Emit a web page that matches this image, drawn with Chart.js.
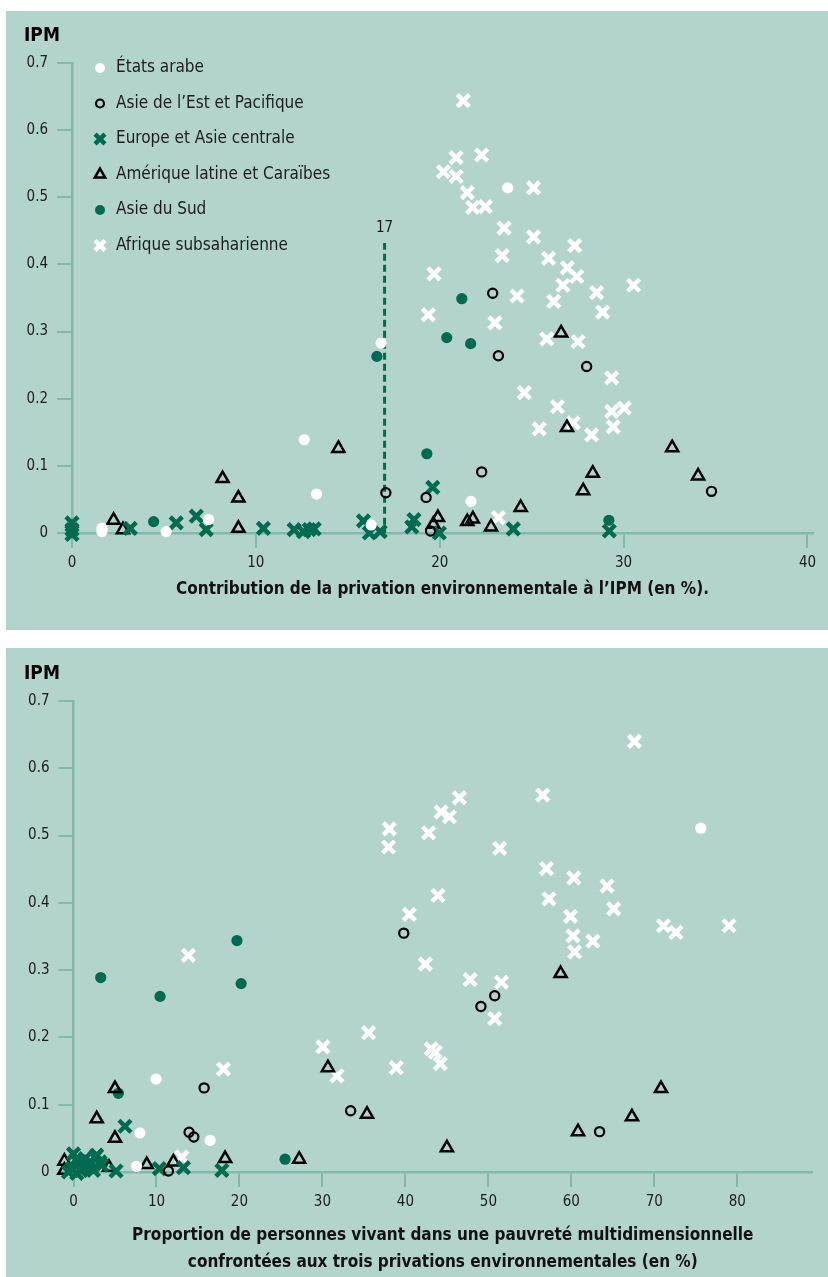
<!DOCTYPE html>
<html>
<head>
<meta charset="utf-8">
<script src="https://cdn.jsdelivr.net/npm/chart.js@4.4.1/dist/chart.umd.min.js"></script>
<style>
  body { margin: 0; background: #fff; width: 828px; height: 1277px; overflow: hidden; position: relative; }
  .panel { position: absolute; left: 6px; width: 822px; background: #b3d3cd; }
  .panel canvas { display: block; }
  #p1 { top: 11px; height: 619px; }
  #p2 { top: 648px; height: 629px; }
</style>
</head>
<body>
<div class="panel" id="p1"><canvas id="c1" width="822" height="619"></canvas></div>
<div class="panel" id="p2"><canvas id="c2" width="822" height="629"></canvas></div>
<script>
// series names
const regionNames = ['États arabe', 'Asie de l’Est et Pacifique', 'Europe et Asie centrale',
    'Amérique latine et Caraïbes', 'Asie du Sud', 'Afrique subsaharienne']

// chart 1 : contribution (%) , IPM
const arabe1 = [[23.7, 0.514], [16.81, 0.283], [12.63, 0.139], [13.3, 0.058], [7.43, 0.020], [5.12, 0.002],
    [1.63, 0.007], [1.63, 0.002], [21.7, 0.047], [16.27, 0.012]]
const estAsie1 = [[22.88, 0.357], [23.19, 0.264], [27.99, 0.248], [22.28, 0.091], [34.78, 0.062], [17.07, 0.060],
    [19.26, 0.053], [19.5, 0.003]]
const europe1 = [[0, 0.015], [0, 0.005], [0, -0.002], [3.17, 0.007], [5.67, 0.015], [6.76, 0.025], [7.3, 0.005],
    [10.41, 0.007], [12.08, 0.005], [12.59, 0.002], [12.9, 0.005], [13.17, 0.006], [15.85, 0.018], [16.17, 0.0],
    [16.76, 0.002], [18.48, 0.009], [18.6, 0.020], [19.62, 0.068], [19.98, 0.0], [24.0, 0.006], [29.22, 0.003]]
const latAm1 = [[26.6, 0.298], [26.92, 0.157], [32.64, 0.127], [34.05, 0.085], [28.32, 0.089], [27.8, 0.063],
    [24.4, 0.038], [22.79, 0.009], [21.8, 0.021], [21.5, 0.017], [19.9, 0.023], [19.65, 0.013], [14.49, 0.126],
    [8.19, 0.081], [9.05, 0.052], [9.05, 0.007], [2.26, 0.019], [2.77, 0.005]]
const sud1 = [[21.2, 0.349], [20.38, 0.291], [21.68, 0.282], [16.58, 0.263], [19.3, 0.118], [29.2, 0.019], [4.44, 0.017]]
const afrique1 = [[21.28, 0.644], [20.89, 0.559], [22.28, 0.563], [20.2, 0.538], [20.89, 0.531], [21.5, 0.507],
    [21.79, 0.485], [22.48, 0.486], [25.1, 0.514], [23.5, 0.454], [25.1, 0.441], [27.34, 0.428], [23.4, 0.413],
    [25.92, 0.409], [26.94, 0.395], [27.45, 0.382], [26.7, 0.369], [19.69, 0.386], [30.54, 0.369], [28.53, 0.358],
    [24.2, 0.353], [26.2, 0.345], [28.86, 0.329], [19.38, 0.325], [23.0, 0.313], [25.82, 0.289], [27.52, 0.285],
    [29.35, 0.231], [24.6, 0.209], [26.4, 0.188], [29.35, 0.181], [30.03, 0.186], [27.26, 0.164], [25.41, 0.155],
    [29.43, 0.158], [28.26, 0.146], [23.19, 0.023]]
const seuil = 17
const seuilLine = [[17, -0.037], [17, 0.432]]

// chart 2 : proportion (%) , IPM
const arabe2 = [[75.6, 0.511], [9.95, 0.138], [8.0, 0.058], [16.47, 0.047], [7.6, 0.0085], [-1.4, 0.0025]]
const estAsie2 = [[39.8, 0.355], [50.76, 0.262], [49.1, 0.246], [63.4, 0.060], [15.74, 0.125], [33.4, 0.091],
    [13.93, 0.059], [14.5, 0.052], [11.44, 0.0015]]
const europe2 = [[6.2, 0.068], [5.13, 0.0015], [10.35, 0.005], [13.25, 0.0065], [17.88, 0.0025],
    [0.0, 0.027], [0.8, 0.015], [2.8, 0.025], [3.2, 0.015], [2.0, 0.015], [-0.2, 0.005], [0.4, -0.002],
    [2.4, 0.0025], [1.2, 0.0075], [1.4, 0.020], [2.6, 0.022], [0.3, 0.018], [-0.6, 0.0], [1.8, 0.008],
    [0.9, 0.002], [3.4, 0.010]]
const latAm2 = [[58.7, 0.295], [70.8, 0.124], [67.3, 0.082], [60.8, 0.060], [45.0, 0.036], [30.66, 0.155],
    [35.37, 0.086], [5.0, 0.124], [2.8, 0.079], [5.0, 0.050], [27.2, 0.019], [18.27, 0.020], [12.04, 0.015],
    [8.83, 0.011], [4.28, 0.007], [1.78, 0.005], [-1.1, 0.016], [-1.1, 0.0025]]
const sud2 = [[3.28, 0.289], [10.43, 0.261], [20.2, 0.280], [19.7, 0.344], [5.41, 0.117], [25.5, 0.019], [0.7, 0.012]]
const afrique2 = [[67.6, 0.640], [56.55, 0.560], [46.5, 0.556], [44.3, 0.535], [45.3, 0.528], [38.06, 0.510],
    [42.8, 0.504], [37.97, 0.483], [51.36, 0.481], [57.0, 0.451], [60.3, 0.437], [64.3, 0.425], [57.3, 0.406],
    [43.93, 0.411], [65.1, 0.391], [59.9, 0.380], [79.0, 0.366], [71.1, 0.366], [72.6, 0.356], [60.2, 0.351],
    [62.6, 0.343], [60.4, 0.327], [40.47, 0.383], [42.4, 0.309], [47.8, 0.286], [51.57, 0.282], [50.76, 0.228],
    [13.85, 0.322], [18.07, 0.153], [30.06, 0.186], [35.56, 0.207], [31.75, 0.143], [38.9, 0.155], [13.05, 0.022],
    [43.1, 0.183], [43.6, 0.178], [44.2, 0.161]]

const yTicks = [0, 0.1, 0.2, 0.3, 0.4, 0.5, 0.6, 0.7]

const green = '#006b50'
const axisCol = '#84b8ad'
const txtCol = '#1c1c1c'
const F = '"DejaVu Sans Condensed", "Liberation Sans", sans-serif'

const markStyles = [
    { pointStyle: 'circle', radius: 5.6, bg: '#ffffff', border: '#ffffff', bw: 0 },
    { pointStyle: 'circle', radius: 4.6, bg: 'rgba(0,0,0,0)', border: '#000000', bw: 2.2 },
    { pointStyle: 'crossRot', radius: 8.5, bg: green, border: green, bw: 4.5 },
    { pointStyle: 'triangle', radius: 7, bg: 'rgba(0,0,0,0)', border: '#000000', bw: 2.5 },
    { pointStyle: 'circle', radius: 5.6, bg: green, border: green, bw: 0 },
    { pointStyle: 'crossRot', radius: 8.5, bg: '#ffffff', border: '#ffffff', bw: 4.5 }
]

function toPts(arr) {
    return arr.map(p => ({ x: p[0], y: p[1] }))
}

function makeSets(series) {
    return series.map((arr, i) => {
        const st = markStyles[i]
        return {
            label: regionNames[i],
            data: toPts(arr),
            pointStyle: st.pointStyle,
            pointRadius: st.radius,
            pointBackgroundColor: st.bg,
            pointBorderColor: st.border,
            pointBorderWidth: st.bw,
            clip: false
        }
    })
}

// IPM label, inline legend, threshold label
const decor = {
    id: 'decor',
    afterDraw(chart, args, opts) {
        const ctx = chart.ctx
        const ys = chart.scales.y
        const xs = chart.scales.x
        ctx.save()
        ctx.fillStyle = '#000'
        ctx.font = 'bold 19px ' + F
        ctx.textBaseline = 'middle'
        ctx.textAlign = 'left'
        ctx.fillText('IPM', 18, ys.getPixelForValue(0.7) - 27)

        if (opts.legend) {
            ctx.font = '17px ' + F
            regionNames.forEach((name, i) => {
                const st = markStyles[i]
                const y = ys.top + 5 + i * 35.5
                ctx.fillStyle = st.bg
                ctx.strokeStyle = st.border
                ctx.lineWidth = st.bw
                const r = st.pointStyle === 'crossRot' ? 7 : (st.pointStyle === 'triangle' ? 6 : st.radius - 0.6)
                Chart.helpers.drawPoint(ctx, { pointStyle: st.pointStyle, radius: r, rotation: 0, borderWidth: st.bw }, 94, y)
                ctx.fillStyle = txtCol
                ctx.fillText(name, 110, y)
            })
        }
        if (opts.mark) {
            ctx.font = '15px ' + F
            ctx.textAlign = 'center'
            ctx.fillStyle = txtCol
            ctx.fillText(String(seuil), xs.getPixelForValue(seuil), ys.getPixelForValue(seuilLine[1][1]) - 15)
        }
        ctx.restore()
    }
}

function makeChart(id, cfg) {
    const ctx = document.getElementById(id).getContext('2d')
    const datasets = makeSets(cfg.series)
    if (cfg.line) {
        datasets.push({
            type: 'line',
            data: toPts(cfg.line),
            borderColor: green,
            borderWidth: 3,
            borderDash: [7, 4],
            pointRadius: 0,
            fill: false
        })
    }
    return new Chart(ctx, {
        type: 'scatter',
        data: { datasets: datasets },
        plugins: [decor],
        options: {
            responsive: false,
            animation: false,
            devicePixelRatio: 1,
            events: [],
            layout: { padding: { top: cfg.padTop, right: cfg.padRight, left: 0, bottom: 0 } },
            plugins: {
                legend: { display: false },
                tooltip: { enabled: false },
                decor: { legend: cfg.legend, mark: cfg.mark }
            },
            scales: {
                x: {
                    type: 'linear',
                    min: 0,
                    max: cfg.xMax,
                    border: { color: axisCol, width: 2.5 },
                    grid: { drawOnChartArea: false, color: axisCol, lineWidth: 2, tickLength: 15 },
                    ticks: {
                        stepSize: 10, includeBounds: false, maxRotation: 0, padding: 6,
                        color: txtCol, font: { family: F, size: 15 }
                    },
                    title: {
                        display: true,
                        text: cfg.xTitle,
                        color: '#111',
                        font: { family: F, size: 17, weight: 'bold', lineHeight: '27px' },
                        padding: { top: 0, bottom: cfg.titlePad }
                    },
                    afterFit: s => { s.height = cfg.xHeight }
                },
                y: {
                    type: 'linear',
                    min: 0,
                    max: 0.7,
                    border: { color: axisCol, width: 2.5 },
                    grid: { drawOnChartArea: false, color: axisCol, lineWidth: 2, tickLength: 15 },
                    afterBuildTicks: s => { s.ticks = yTicks.map(v => ({ value: v })) },
                    ticks: {
                        padding: 9, color: txtCol, font: { family: F, size: 15 },
                        callback: v => v === 0 ? '0' : v.toFixed(1)
                    },
                    afterFit: s => { s.width = cfg.yWidth }
                }
            }
        }
    })
}

makeChart('c1', {
    series: [arabe1, estAsie1, europe1, latAm1, sud1, afrique1],
    line: seuilLine,
    xMax: 40.3,
    xTitle: 'Contribution de la privation environnementale à l’IPM (en %).',
    padTop: 52, padRight: 15, yWidth: 66, xHeight: 97, titlePad: 27,
    legend: true, mark: true
})

makeChart('c2', {
    series: [arabe2, estAsie2, europe2, latAm2, sud2, afrique2],
    xMax: 89,
    xTitle: ['Proportion de personnes vivant dans une pauvreté multidimensionnelle',
        'confrontées aux trois privations environnementales (en %)'],
    padTop: 53, padRight: 16, yWidth: 67.5, xHeight: 105, titlePad: 1,
    legend: false, mark: false
})
</script>
</body>
</html>
